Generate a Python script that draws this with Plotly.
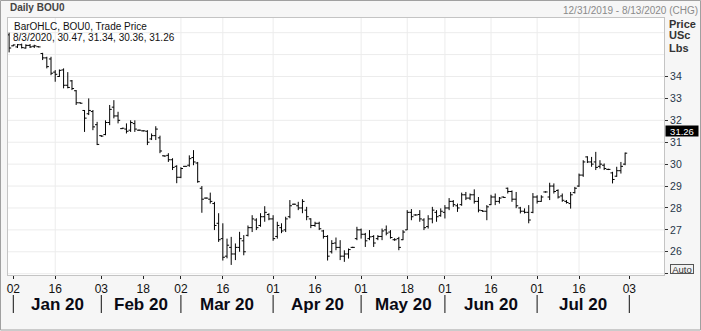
import pandas as pd
import plotly.graph_objects as go

# ---- data -----------------------------------------------------------------
HOLIDAYS = ["2020-01-01", "2020-01-20", "2020-02-17", "2020-04-10",
            "2020-05-25", "2020-07-03"]

HIGH = [36.00, 35.46, 35.48, 35.50, 35.47, 35.48, 35.45, 35.38, 35.08, 34.90,
        34.90, 34.29, 34.32, 34.37, 34.20, 33.84, 33.38, 32.82, 32.47, 33.00,
        32.47, 31.93, 31.32, 32.00, 32.70, 32.92, 32.39, 31.66, 31.86, 32.00,
        32.00, 31.58, 31.55, 31.55, 31.40, 31.73, 31.30, 30.40, 30.50, 30.27,
        29.95, 29.86, 29.92, 30.40, 30.64, 30.10, 29.00, 28.48, 28.70, 28.28,
        27.76, 27.30, 26.60, 26.68, 26.38, 26.91, 26.76, 27.20, 27.67, 27.53,
        27.76, 28.08, 27.76, 27.67, 27.37, 27.30, 27.60, 28.36, 28.20, 28.28,
        28.40, 28.05, 27.53, 27.37, 27.37, 27.00, 26.76, 26.53, 26.65, 26.53,
        26.07, 26.15, 26.23, 27.14, 27.06, 26.86, 26.99, 26.76, 26.76, 27.06,
        27.20, 26.99, 26.62, 26.68, 26.99, 27.90, 27.95, 27.71, 27.90, 27.53,
        27.67, 28.05, 27.90, 27.98, 28.13, 28.45, 28.36, 28.20, 28.70, 28.73,
        28.66, 28.85, 28.50, 27.90, 28.13, 28.60, 28.66, 28.50, 28.52, 28.93,
        28.80, 28.73, 28.05, 27.98, 28.13, 28.68, 28.58, 28.58, 28.76, 29.15,
        29.12, 28.85, 28.66, 28.36, 28.73, 28.96, 29.57, 30.18, 30.36, 30.33,
        30.56, 30.18, 30.03, 29.79, 29.65, 29.88, 30.10, 30.53]

LOW = [35.10, 35.38, 35.30, 35.28, 35.27, 35.30, 35.30, 35.33, 34.75, 34.37,
       34.06, 33.76, 33.98, 33.46, 33.46, 33.38, 32.70, 32.76, 31.47, 32.24,
       31.55, 30.87, 31.24, 31.32, 31.78, 32.09, 31.86, 31.60, 31.40, 31.47,
       31.47, 31.52, 31.49, 30.87, 31.10, 31.10, 30.50, 30.34, 30.10, 29.73,
       29.13, 29.36, 29.88, 29.88, 29.95, 29.15, 27.78, 28.42, 28.20, 26.99,
       26.45, 25.60, 25.70, 25.40, 25.62, 26.00, 25.84, 26.70, 26.90, 26.99,
       27.14, 27.37, 27.44, 26.50, 26.60, 26.85, 26.90, 27.53, 28.14, 27.90,
       27.76, 27.44, 27.08, 27.14, 26.99, 26.60, 25.60, 25.92, 26.07, 25.62,
       25.54, 25.69, 26.17, 26.53, 26.60, 26.22, 26.53, 26.22, 26.53, 26.53,
       26.75, 26.60, 26.50, 26.07, 26.53, 26.99, 27.44, 27.65, 27.37, 26.99,
       27.06, 27.30, 27.37, 27.60, 27.52, 27.90, 28.05, 27.82, 28.10, 28.36,
       28.36, 28.20, 27.80, 27.82, 27.44, 28.13, 28.13, 28.20, 28.46, 28.66,
       28.28, 27.99, 27.75, 27.75, 27.30, 27.76, 28.20, 28.28, 28.70, 28.36,
       28.66, 28.43, 28.28, 28.20, 27.97, 28.66, 28.96, 29.42, 30.05, 29.88,
       29.73, 29.80, 29.73, 29.73, 29.12, 29.42, 29.57, 29.95]

OPEN = [35.90, 35.40, 35.35, 35.45, 35.30, 35.42, 35.38, 35.36, 35.05, 34.85,
        34.80, 34.20, 34.00, 34.30, 33.60, 33.80, 33.35, 32.80, 32.45, 32.30,
        32.40, 31.80, 31.30, 31.35, 31.90, 32.60, 32.20, 31.62, 31.60, 31.55,
        31.85, 31.55, 31.52, 31.50, 31.15, 31.30, 31.20, 30.38, 30.40, 30.20,
        29.90, 29.40, 29.90, 29.95, 30.30, 30.05, 28.90, 28.45, 28.40, 28.20,
        27.30, 26.60, 25.80, 26.20, 25.90, 26.20, 26.50, 26.75, 27.10, 27.45,
        27.20, 27.60, 27.70, 27.50, 26.70, 27.10, 27.00, 27.60, 28.17, 28.10,
        28.00, 27.90, 27.50, 27.20, 27.30, 26.95, 26.70, 26.00, 26.40, 26.20,
        25.80, 25.90, 26.20, 26.60, 27.00, 26.80, 26.60, 26.70, 26.60, 26.70,
        27.00, 26.90, 26.55, 26.60, 26.55, 27.00, 27.80, 27.68, 27.70, 27.45,
        27.15, 27.50, 27.80, 27.65, 27.80, 28.00, 28.30, 28.10, 28.15, 28.60,
        28.45, 28.60, 28.30, 27.88, 27.85, 28.15, 28.50, 28.30, 28.50, 28.90,
        28.75, 28.40, 28.00, 27.85, 27.80, 27.80, 28.50, 28.30, 28.73, 28.50,
        29.00, 28.80, 28.55, 28.30, 28.20, 28.70, 29.00, 29.50, 30.33, 30.10,
        30.10, 29.90, 29.95, 29.76, 29.60, 29.45, 29.70, 30.00]

CLOSE = [35.30, 35.44, 35.45, 35.32, 35.42, 35.35, 35.40, 35.35, 34.85, 34.45,
         34.15, 34.10, 34.28, 33.60, 33.50, 33.45, 32.80, 32.78, 32.10, 32.45,
         31.70, 30.90, 31.28, 31.90, 32.50, 32.20, 32.00, 31.64, 31.50, 31.90,
         31.60, 31.55, 31.52, 31.00, 31.30, 31.60, 30.60, 30.37, 30.20, 29.85,
         29.40, 29.80, 29.90, 30.25, 30.10, 29.20, 28.40, 28.45, 28.30, 27.20,
         26.55, 25.75, 26.30, 25.90, 26.20, 26.60, 26.00, 27.10, 27.50, 27.10,
         27.60, 27.80, 27.50, 26.60, 27.20, 26.95, 27.50, 28.10, 28.17, 28.00,
         28.30, 27.60, 27.20, 27.30, 27.05, 26.70, 25.80, 26.38, 26.20, 25.80,
         25.90, 26.10, 26.20, 27.00, 26.80, 26.50, 26.68, 26.40, 26.70, 26.95,
         26.85, 26.65, 26.55, 26.20, 26.90, 27.80, 27.60, 27.68, 27.50, 27.10,
         27.50, 27.90, 27.60, 27.85, 28.00, 28.30, 28.15, 28.00, 28.60, 28.45,
         28.60, 28.30, 27.90, 27.85, 28.05, 28.50, 28.30, 28.45, 28.48, 28.75,
         28.40, 28.10, 27.85, 27.80, 27.45, 28.50, 28.30, 28.50, 28.73, 29.00,
         28.75, 28.50, 28.35, 28.25, 28.60, 28.90, 29.50, 30.10, 30.10, 30.00,
         29.85, 30.00, 29.80, 29.76, 29.30, 29.70, 29.90, 30.50]

TICK_DATES = ["2020-01-02", "2020-01-16", "2020-02-03", "2020-02-18",
              "2020-03-02", "2020-03-16", "2020-04-01", "2020-04-16",
              "2020-05-01", "2020-05-18", "2020-06-01", "2020-06-16",
              "2020-07-01", "2020-07-16", "2020-08-03"]
TICK_TEXT = ["02", "16", "03", "18", "02", "16", "01", "16",
             "01", "18", "01", "16", "01", "16", "03"]
GRID_DATES = ["2020-01-16", "2020-03-02", "2020-03-16", "2020-04-01",
              "2020-05-01", "2020-05-18", "2020-06-01", "2020-06-16",
              "2020-07-01", "2020-07-16"]
MONTH_STARTS = ["2020-01-02", "2020-02-03", "2020-03-02", "2020-04-01",
                "2020-05-01", "2020-06-01", "2020-07-01", "2020-08-03"]
MONTH_LABELS = ["Jan 20", "Feb 20", "Mar 20", "Apr 20",
                "May 20", "Jun 20", "Jul 20"]
Y_TICKS = [25, 26, 27, 28, 29, 30, 31, 32, 33, 34]
Y_TEXT = ["", "26", "27", "28", "29", "30", "31", "32", "33", "34"]
Y_GRID = [25, 26, 27, 28, 29, 30, 31, 32, 33, 34, 35, 36]
LAST_PRICE = 31.26

# ---- trading calendar -> x positions -----------------------------------------
cal = pd.bdate_range("2019-12-31", "2020-08-13", freq="C", holidays=HOLIDAYS)
pos = {d.strftime("%Y-%m-%d"): i for i, d in enumerate(cal)}
x_bars = list(range(len(OPEN)))

W, H = 701, 331
L, R, T, B = 8, 37, 18, 56
PW, PH = W - L - R, H - T - B


def px_x(p):
    return (p - L) / PW


def px_y(p):
    return (H - B - p) / PH


fig = go.Figure(go.Ohlc(
    x=x_bars, open=OPEN, high=HIGH, low=LOW, close=CLOSE,
    increasing=dict(line=dict(color="black", width=1)),
    decreasing=dict(line=dict(color="black", width=1)),
    tickwidth=0.5, hoverinfo="skip", showlegend=False))

shapes = []
for v in Y_GRID:
    shapes.append(dict(type="line", xref="paper", yref="y", x0=0, x1=1, y0=v, y1=v,
                       line=dict(color="#ececec", width=1), layer="below"))
for d in GRID_DATES:
    shapes.append(dict(type="line", xref="x", yref="paper", x0=pos[d], x1=pos[d], y0=0, y1=1,
                       line=dict(color="#ececec", width=1), layer="below"))
for d in MONTH_STARTS:
    shapes.append(dict(type="line", xref="x", yref="paper", x0=pos[d], x1=pos[d],
                       y0=px_y(295), y1=px_y(313), line=dict(color="#111", width=1)))
# outer frame
shapes.append(dict(type="rect", xref="paper", yref="paper", x0=px_x(0.5), x1=px_x(700.5),
                   y0=px_y(330), y1=px_y(0.5), line=dict(color="#a0a0a0", width=1)))

ann = []
for i, lab in enumerate(MONTH_LABELS):
    xm = (pos[MONTH_STARTS[i]] + pos[MONTH_STARTS[i + 1]]) / 2
    ann.append(dict(x=xm, xref="x", y=px_y(304), yref="paper", text=f"<b>{lab}</b>",
                    showarrow=False,
                    font=dict(family="Liberation Sans", size=17, color="#0a0a14"),
                    xanchor="center", yanchor="middle"))
ann += [
    dict(x=px_x(8), y=px_y(8), xref="paper", yref="paper", text="<b>Daily BOU0</b>",
         showarrow=False, xanchor="left", yanchor="middle",
         font=dict(family="Liberation Sans", size=10, color="#444")),
    dict(x=px_x(700), y=px_y(10), xref="paper", yref="paper",
         text="12/31/2019 - 8/13/2020 (CHG)", showarrow=False, xanchor="right",
         yanchor="middle", font=dict(family="Liberation Sans", size=10, color="#8a8a8a")),
    dict(x=px_x(12), y=px_y(26), xref="paper", yref="paper",
         text="BarOHLC, BOU0, Trade Price", showarrow=False, xanchor="left",
         yanchor="middle", font=dict(family="Liberation Sans", size=10, color="#111")),
    dict(x=px_x(11), y=px_y(37.5), xref="paper", yref="paper",
         text="8/3/2020, 30.47, 31.34, 30.36, 31.26", showarrow=False, xanchor="left",
         yanchor="middle", font=dict(family="Liberation Sans", size=10, color="#111")),
    dict(x=px_x(667), y=px_y(24), xref="paper", yref="paper", text="<b>Price</b>",
         showarrow=False, xanchor="left", yanchor="middle",
         font=dict(family="Liberation Sans", size=11, color="#333")),
    dict(x=px_x(667), y=px_y(35), xref="paper", yref="paper", text="<b>USc</b>",
         showarrow=False, xanchor="left", yanchor="middle",
         font=dict(family="Liberation Sans", size=11, color="#333")),
    dict(x=px_x(667), y=px_y(48), xref="paper", yref="paper", text="<b>Lbs</b>",
         showarrow=False, xanchor="left", yanchor="middle",
         font=dict(family="Liberation Sans", size=11, color="#333")),
    dict(x=1, y=LAST_PRICE, xref="paper", yref="y", yshift=6, xshift=1,
         text=f"{LAST_PRICE:.2f}", showarrow=False, xanchor="left", yanchor="middle",
         bgcolor="black", width=32, height=10, borderpad=0,
         font=dict(family="Liberation Sans", size=9.5, color="white")),
    dict(x=px_x(670), y=px_y(269), xref="paper", yref="paper", text="Auto",
         showarrow=False, xanchor="left", yanchor="middle", bgcolor="#f2f2f2",
         bordercolor="#555", borderwidth=1, borderpad=0, width=22, height=8,
         font=dict(family="Liberation Sans", size=9.5, color="#333")),
]

fig.update_layout(
    width=W, height=H, margin=dict(l=L, r=R, t=T, b=B, pad=0),
    paper_bgcolor="#f6f6f6", plot_bgcolor="white",
    shapes=shapes, annotations=ann, showlegend=False,
    xaxis=dict(range=[-0.265, 156.28], rangeslider=dict(visible=False),
               tickvals=[pos[d] for d in TICK_DATES], ticktext=TICK_TEXT,
               ticks="outside", ticklen=3, tickcolor="#222", showgrid=False,
               zeroline=False, showline=True, linecolor="#c4c4c4", mirror=True,
               tickfont=dict(family="Liberation Sans", size=12, color="#111")),
    yaxis=dict(range=[24.94, 36.67], side="right", tickvals=Y_TICKS, ticktext=Y_TEXT,
               ticks="outside", ticklen=3, tickcolor="#333", showgrid=False,
               zeroline=False, showline=True, linecolor="#c4c4c4", mirror=True,
               tickfont=dict(family="Liberation Sans", size=10.5, color="#27364a")),
)

fig.write_html("out.html")
